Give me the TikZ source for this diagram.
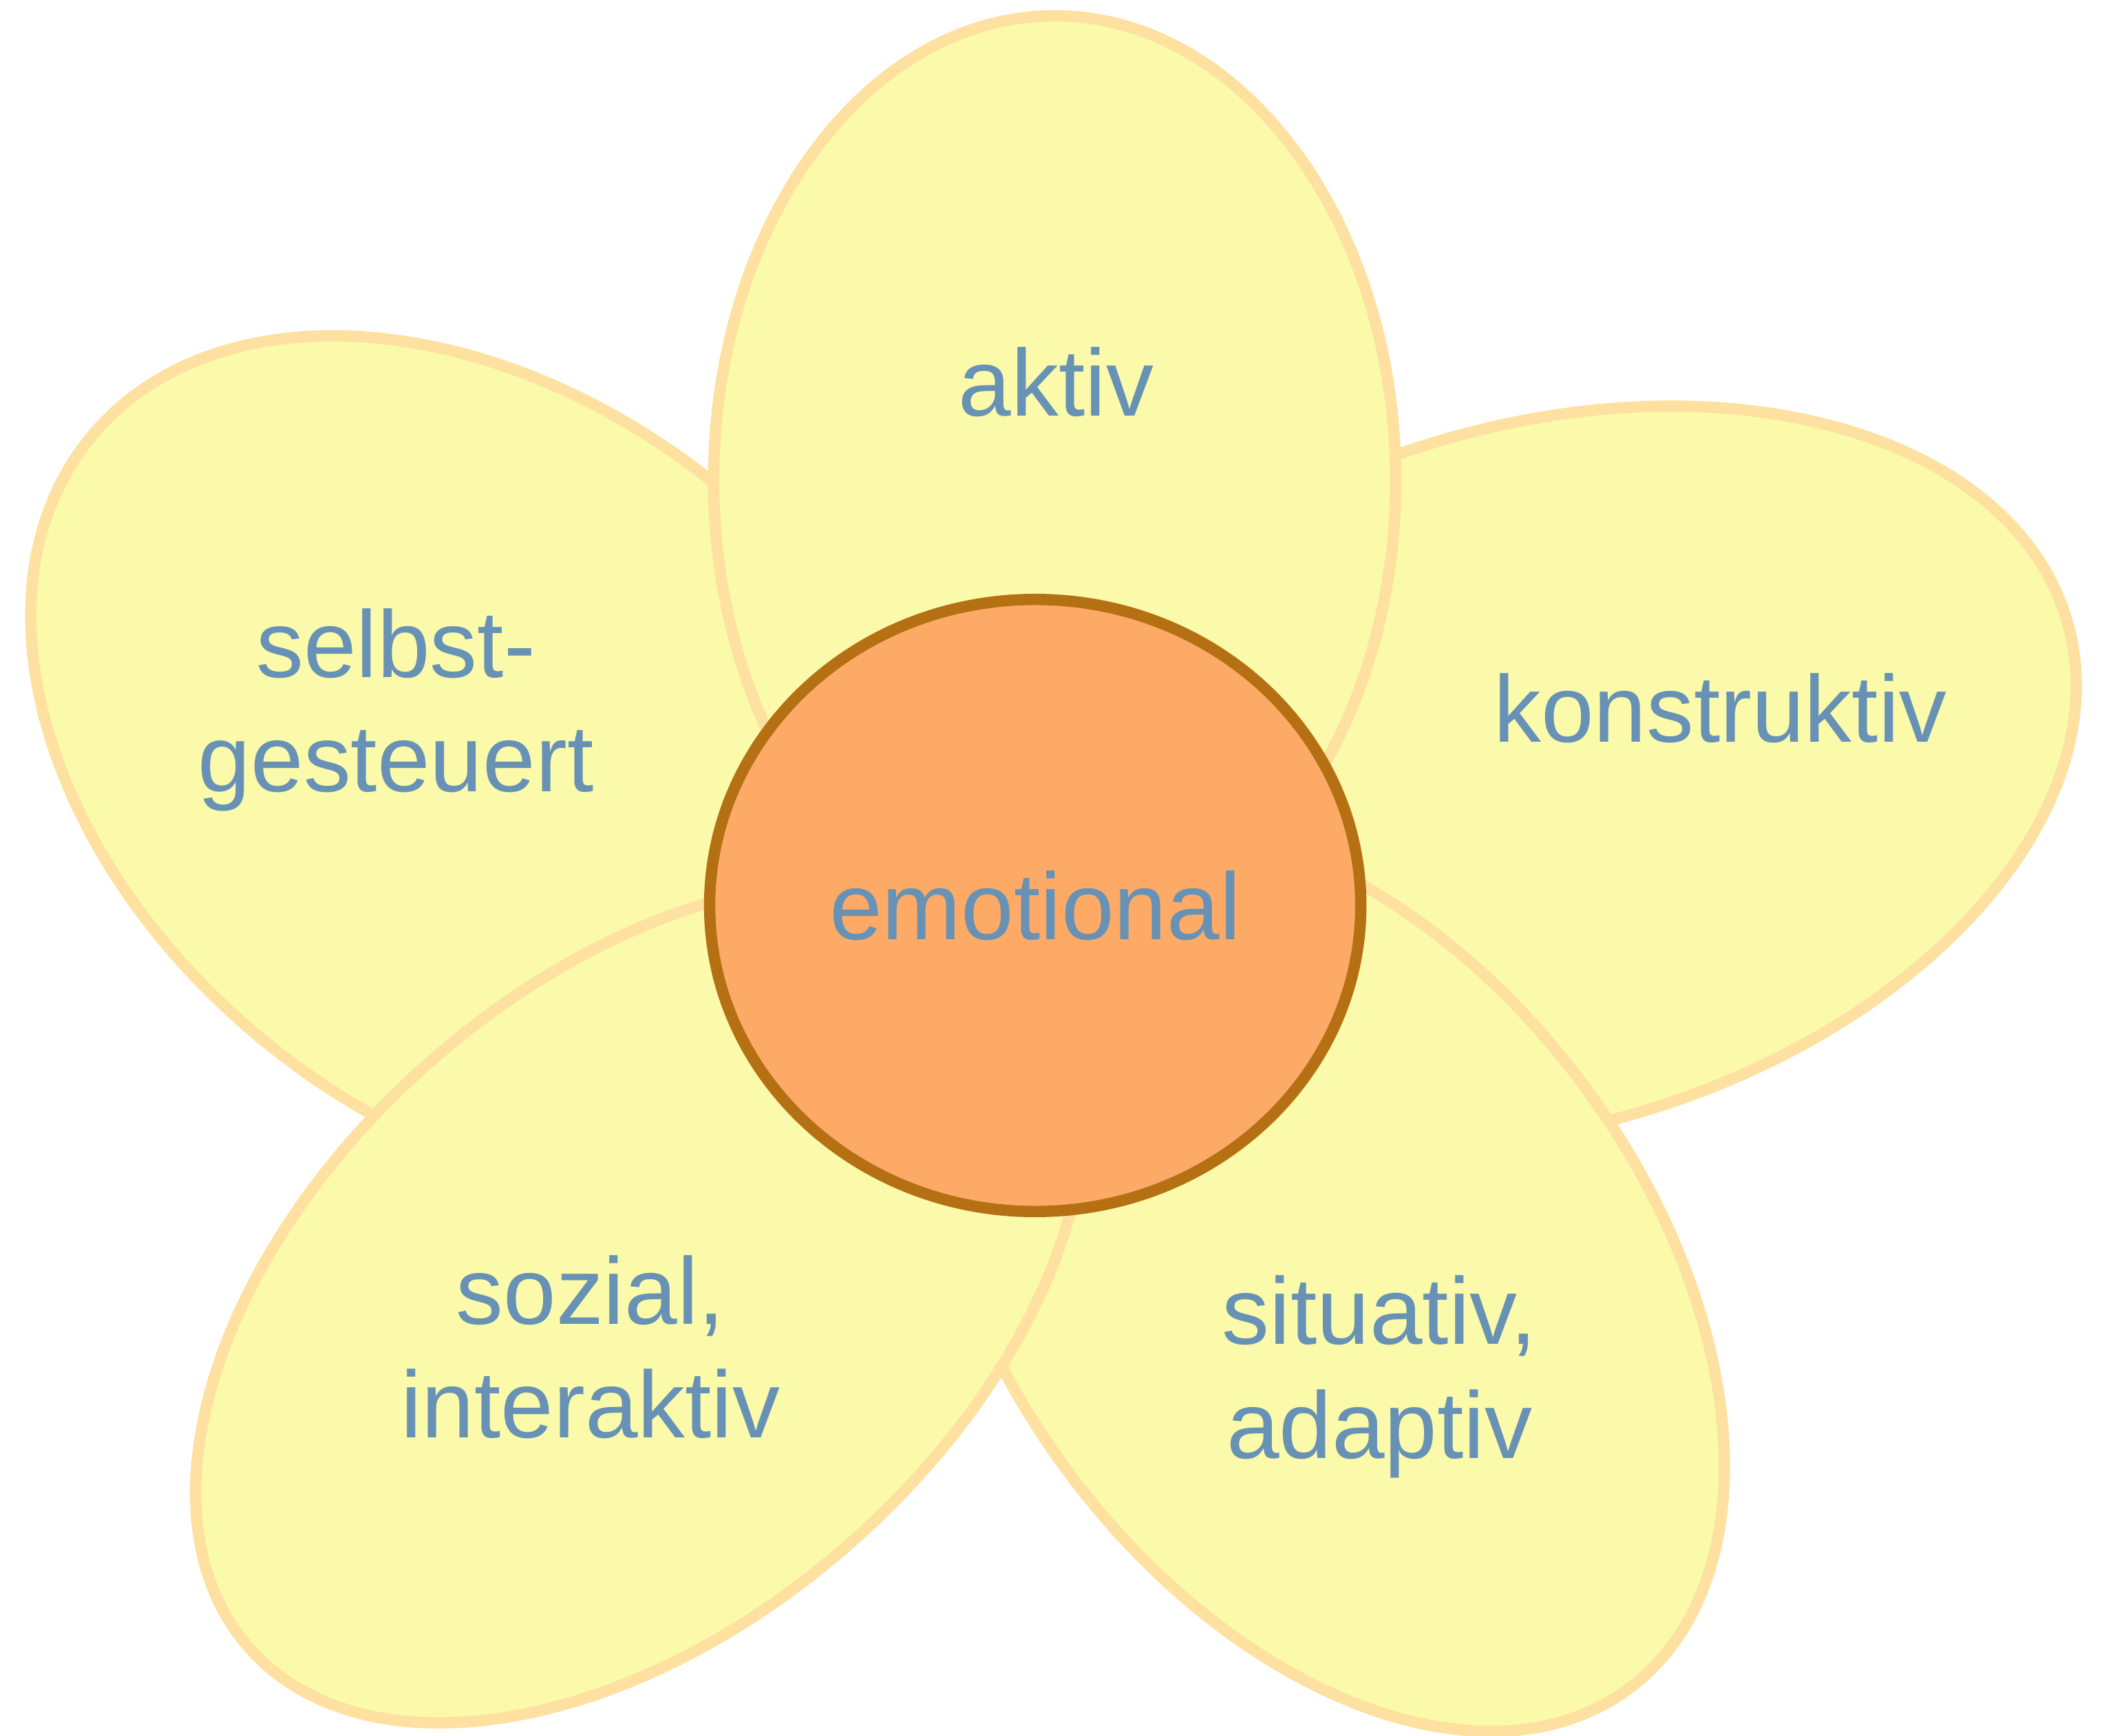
\documentclass[tikz,border=0pt]{standalone}
\usepackage{fontspec}
\setmainfont{Liberation Sans}
\usetikzlibrary{shapes.geometric}
\usetikzlibrary{shadows}

\definecolor{petalfill}{RGB}{250,250,170}
\definecolor{petalline}{RGB}{254,224,160}
\definecolor{heartfill}{RGB}{253,170,102}
\definecolor{heartline}{RGB}{181,112,20}
\definecolor{wordblue}{RGB}{103,146,181}

\begin{document}
\begin{tikzpicture}[x=0.01cm, y=0.01cm,
                          petal/.style={ellipse, draw=petalline, fill=petalfill, line width=2.4pt, inner sep=0pt},
                          heart/.style={ellipse, draw=heartline, fill=heartfill, line width=2.4pt, inner sep=0pt,
                                        minimum width=4.85cm, minimum height=4.56cm,
                                        drop shadow={shadow xshift=0.5pt, shadow yshift=-0.8pt, opacity=0.45, fill=black!70}},
                          word/.style={text=wordblue, font=\fontsize{20.1}{24.2}\selectfont, align=center},
                      ]
                      \useasboundingbox (0,0) rectangle (1568,-1294);

                      % Petals
                      \node[petal, minimum width=7.72cm, minimum height=5.34cm, rotate=-39]   (selbst_petal)  at (367,-570)  {};
                      \node[petal, minimum width=8.2cm,  minimum height=5.22cm, rotate=16.5]  (konstr_petal)  at (1147,-579) {};
                      \node[petal, minimum width=7.6cm,  minimum height=4.8cm,  rotate=-53.6] (situativ_petal) at (988,-953) {};
                      \node[petal, minimum width=7.77cm, minimum height=4.76cm, rotate=41.5]  (sozial_petal)  at (477,-971)  {};
                      \node[petal, minimum width=5.08cm, minimum height=6.92cm]               (aktiv_petal)   at (786,-358)  {};

                      % Centre
                      \node[heart, word] (emotional) at (771.5,-675) {emotional};

                      % Labels (base = last line)
                      \node[word, anchor=base] (aktiv)    at (787,-310)  {aktiv};
                      \node[word, anchor=base] (selbst)   at (295,-590)  {selbst-\\gesteuert};
                      \node[word, anchor=base] (konstr)   at (1282,-553) {konstruktiv};
                      \node[word, anchor=base] (sozial)   at (440,-1072) {sozial,\\interaktiv};
                      \node[word, anchor=base] (situativ) at (1028,-1087) {situativ,\\adaptiv};
                  \end{tikzpicture}
\end{document}
